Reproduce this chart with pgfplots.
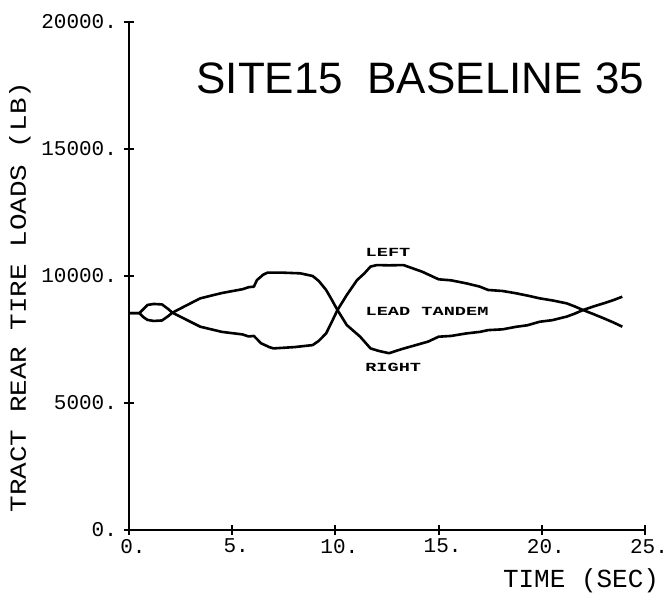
\documentclass[border=0pt]{standalone}
\usepackage{pgfplots}
\pgfplotsset{compat=1.18}
\usepackage{fontspec}
\setmainfont{Liberation Sans}
\newfontfamily\tickfont{Liberation Mono}
\newfontfamily\ylabfont[FakeStretch=1.2]{Liberation Mono}
\newfontfamily\smallfont[FakeStretch=1.5]{Liberation Mono}
\newfontfamily\titlefont{Liberation Sans}

\pgfplotstableread{
x y
0.0 8540
0.5 8540
0.7 8700
0.9 8860
1.2 8900
1.6 8880
1.9 8700
2.1 8555
2.8 8850
3.45 9120
4.5 9330
5.5 9480
5.8 9560
6.05 9580
6.2 9840
6.5 10050
6.7 10130
7.5 10130
8.3 10105
8.9 10000
9.2 9800
9.55 9450
9.8 9100
10.1 8660
10.55 8070
11.2 7610
11.7 7150
12.1 7050
12.6 6960
13.2 7120
13.9 7280
14.5 7420
15.0 7610
15.6 7640
16.35 7740
17.0 7800
17.4 7870
18.1 7900
18.75 8000
19.3 8060
19.9 8200
20.5 8260
21.2 8400
21.6 8520
22.0 8660
22.5 8800
23.0 8925
23.5 9060
23.9 9185
}\rightdata

\pgfplotstableread{
x y
0.0 8540
0.5 8540
0.7 8380
0.9 8270
1.2 8230
1.6 8250
1.9 8420
2.1 8555
2.8 8270
3.45 8005
4.5 7800
5.5 7700
5.8 7620
6.05 7640
6.4 7350
6.8 7200
7.0 7150
8.0 7200
8.9 7280
9.2 7450
9.55 7740
9.8 8150
10.1 8660
10.55 9250
11.05 9840
11.4 10100
11.7 10370
12.0 10430
12.6 10420
13.3 10430
14.2 10170
15.0 9870
15.6 9830
16.35 9710
17.0 9580
17.4 9450
18.1 9410
18.75 9320
19.3 9230
19.9 9120
20.5 9040
21.2 8925
21.6 8800
22.0 8660
22.5 8500
23.0 8335
23.5 8160
23.9 8005
}\leftdata

\begin{document}
\begin{tikzpicture}
\begin{axis}[
  at={(0,0)}, anchor=south west,
  scale only axis, width=258pt, height=254pt,
  xmin=0, xmax=25, ymin=0, ymax=20000,
  axis x line=bottom, axis y line=left,
  axis line style={-, line width=1.2pt, black},
  scaled ticks=false,
  xtick={0,5,10,15,20,25}, xticklabels={0.,5.,10.,15.,20.,25.},
  ytick={0,5000,10000,15000,20000}, yticklabels={0.,5000.,10000.,15000.,20000.},
  tick align=center, major tick length=5pt,
  tick style={line width=1pt, black},
  xticklabel style={font=\tickfont\fontsize{10.5}{12}\selectfont, anchor=north, xshift=2pt, yshift=1.5pt},
  yticklabel style={font=\tickfont\fontsize{10.5}{12}\selectfont, anchor=east},
  clip=false,
]
\addplot[black, line width=1.3pt, line join=round] table[x=x, y=y] {\rightdata};
\addplot[black, line width=1.3pt, line join=round] table[x=x, y=y] {\leftdata};

\node[font=\smallfont\bfseries\fontsize{6.2}{7}\selectfont] at (axis cs:12.55,10945) {LEFT};
\node[font=\smallfont\bfseries\fontsize{6.2}{7}\selectfont] at (axis cs:14.44,8622) {LEAD TANDEM};
\node[font=\smallfont\bfseries\fontsize{6.2}{7}\selectfont] at (axis cs:12.8,6417) {RIGHT};

\node[font=\titlefont\fontsize{22}{26}\selectfont, anchor=west, inner sep=0pt] at (axis cs:3.25,17795) {SITE15\ \ BASELINE 35};

\node[rotate=90, font=\ylabfont\fontsize{11.5}{13}\selectfont] at (axis cs:-5.28,9173) {TRACT REAR TIRE LOADS (LB)};
\node[font=\tickfont\fontsize{13}{15}\selectfont] at (axis cs:21.9,-2008) {TIME (SEC)};
\end{axis}
\pgfresetboundingbox
\path[use as bounding box] (-64.5pt,-37.5pt) rectangle (269.5pt,265pt);
\end{tikzpicture}
\end{document}
